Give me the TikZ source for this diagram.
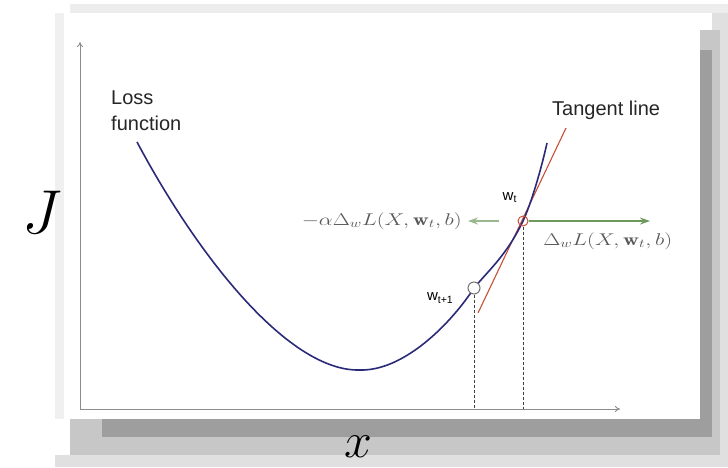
\RequirePackage{fix-cm}
\documentclass[tikz,border=0pt]{standalone}
\usepackage{amsmath}
\usepackage{fontspec}
\newfontfamily\arialfont{Liberation Sans}
\usetikzlibrary{positioning,arrows.meta}

\definecolor{lossblue}{HTML}{2B2A78}
\definecolor{tanred}{HTML}{C8503A}
\definecolor{gradgreen}{HTML}{6E9A5E}

\begin{document}
\begin{tikzpicture}[x=1pt, y=-1pt,
        axis/.style    = {draw=black!45, line width=0.9pt, -{To[length=5pt,width=6pt]}},
        loss/.style    = {draw=lossblue, line width=1.6pt},
        tangent/.style = {draw=tanred, line width=1.1pt},
        grad/.style    = {draw=gradgreen, line width=1.8pt, -{Stealth[length=10pt,width=7pt]}},
        guide/.style   = {draw=black!75, line width=0.8pt, dash pattern=on 3pt off 2pt},
        wdot/.style    = {circle, draw=tanred, line width=1pt, minimum size=10pt, inner sep=0pt},
        wold/.style    = {circle, draw=black!55, fill=white, line width=1pt, minimum size=12pt, inner sep=0pt},
        txt/.style     = {font=\arialfont\fontsize{20}{26}\selectfont, text=black!85, inner sep=0pt},
        wlbl/.style    = {font=\arialfont\fontsize{15}{18}\selectfont, inner sep=0pt},
        mlbl/.style    = {font=\fontsize{17}{20}\selectfont, text=black!65, inner sep=0pt, xscale=1.3, transform shape},
        big/.style     = {inner sep=0pt}
    ]
    \useasboundingbox (0,0) rectangle (728,467);
    % frame and shadow
    \fill[white] (0,0) rectangle (728,467);
    \fill[black!7] (70,4) rectangle (728,13);
    \fill[black!6] (55,13) rectangle (64,419);
    \fill[black!12] (712,13) rectangle (728,467);
    \fill[black!12] (55,455) rectangle (728,467);
    \fill[black!22] (700,30) rectangle (720,455);
    \fill[black!22] (70,419) rectangle (720,455);
    \fill[black!38] (700,50) rectangle (712,437);
    \fill[black!38] (102,419) rectangle (712,437);
    \fill[white] (64,13) rectangle (700,419);

    % axes
    \coordinate (O)    at (80,409);
    \coordinate (ytop) at (80,42);
    \coordinate (xend) at (620,409);
    \draw[axis] (O) -- (ytop);
    \draw[axis] (O) -- (xend);

    % tangent line and loss curve
    \coordinate (tl1) at (478,313);
    \coordinate (tl2) at (566,128);
    \draw[tangent] (tl1) -- (tl2);
    \draw[loss] (137,142) .. controls (200,260) and (290,372) .. (360,370)
                .. controls (405,371) and (452,322) .. (474,288)
                .. controls (490,268.8) and (507,254.6) .. (523,221)
                .. controls (531,204) and (541,170) .. (547,143);

    \node[wdot] (wt)  at (523,221) {};
    \node[wold] (wt1) at (474,288) {};
    \draw[guide] (wt.south)  -- (wt |- O);
    \draw[guide] (wt1.south) -- (wt1 |- O);

    % gradient step arrows
    \coordinate (gradend)   at (650,221);
    \coordinate (stepstart) at (499,221);
    \coordinate (stepend)   at (468,221);
    \draw[grad] (wt.east) -- (gradend);
    \draw[grad, draw=gradgreen!70, line width=1.5pt] (stepstart) -- (stepend);

    % labels
    \node[mlbl, left=6pt of stepend] (steplbl) {$-\alpha\Delta_w L(X,\mathbf{w}_t,b)$};
    \node[mlbl, anchor=west] (gradlbl) at (543,241) {$\Delta_w L(X,\mathbf{w}_t,b)$};
    \node[txt, align=left, anchor=north west] (losslbl) at (111,91) {Loss\\function};
    \node[txt, anchor=base west] (tanlbl) at (552,115) {Tangent line};
    \node[wlbl, above left=14pt and 2pt of wt] (wtlbl) {w\textsubscript{t}};
    \node[wlbl, left=14pt of wt1, yshift=-10pt] (wt1lbl) {w\textsubscript{t+1}};
    \node[big, font=\fontsize{62}{62}\selectfont, anchor=base] (ylbl) at (42,233) {$J$};
    \node[big, font=\fontsize{50}{50}\selectfont, anchor=base] (xlbl) at (358,457) {$x$};
\end{tikzpicture}
\end{document}
